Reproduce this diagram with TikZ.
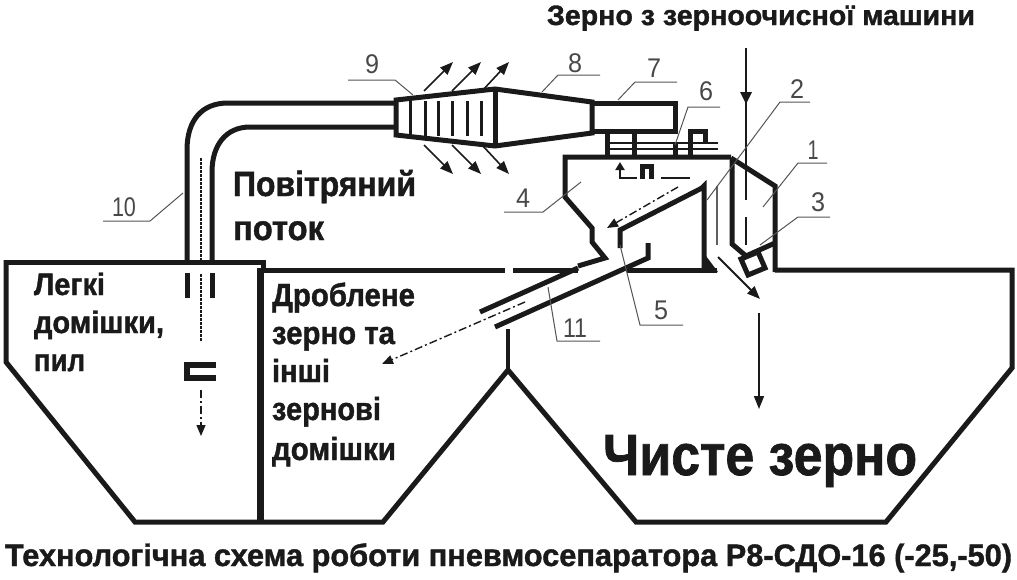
\documentclass[tikz,border=0pt]{standalone}
\usepackage{fontspec}
\usepackage{graphicx}
\setmainfont{Liberation Sans}[BoldFeatures={FakeBold=1.3}]
\usetikzlibrary{arrows.meta}
\definecolor{ink}{HTML}{1A1A1A}
\definecolor{leadc}{HTML}{555555}
\newcommand{\fitw}[3]{\resizebox{#1pt}{\height}{\fontsize{#2}{#2}\selectfont\bfseries #3}}
\newcommand{\numw}[2]{\resizebox{#1pt}{\height}{\fontsize{27}{27}\selectfont #2}}
\tikzset{
  wall/.style={draw=ink,line width=5pt,line join=miter},
  wallb/.style={draw=ink,line width=7pt,line join=miter},
  thinwall/.style={draw=ink,line width=3pt,line join=miter},
  hair/.style={draw=ink,line width=2.5pt},
  leader/.style={draw=leadc,line width=1pt},
  flow/.style={draw=ink,line width=1.6pt,-{Triangle[length=13pt,width=10pt]}},
  dashflow/.style={draw=ink,line width=1.4pt,dash pattern=on 8pt off 3pt on 2pt off 3pt,-{Triangle[length=11pt,width=9pt]}},
  txt/.style={inner sep=0pt,outer sep=0pt,anchor=base west,text=ink},
  num/.style={inner sep=0pt,outer sep=0pt,text=ink!80}
}
\begin{document}
\begin{tikzpicture}[x=1pt,y=-1pt]
\useasboundingbox (0,0) rectangle (1017,579);
\fill[white] (0,0) rectangle (1017,579);
% bins
\draw[wall] (6,262) -- (263,262) -- (263,270);
\draw[wall] (6,260) -- (6,362) -- (135,522) -- (383,522) -- (508,370) -- (636,522) -- (886,522) -- (1012,368) -- (1012,270) -- (775,270);
\draw[wallb] (260,268) -- (260,522);
\draw[wall] (263,270) -- (505,270);
\draw[wall] (513,270) -- (578,270);
\draw[wall] (627,270) -- (717,270);
\draw[wall,line width=4pt] (508,329) -- (508,370);
% pipe
\draw[wall] (187,262) -- (187,150) .. controls (187,120) and (202,103) .. (228,103) -- (396,103);
\draw[wall] (212,262) -- (212,172) .. controls (212,145) and (226,127) .. (250,127) -- (396,127);
\draw[wall] (187,273) -- (187,298) (212,273) -- (212,298);
\draw[draw=ink,line width=2pt,dash pattern=on 3pt off 1pt] (201,158) -- (201,262) (201,274) -- (201,342);
\draw[wall,line width=6pt] (216,364.5) -- (187,364.5) -- (187,378) -- (216,378);
\draw[dashflow] (201,390) -- (201,436);
% cyclone
\draw[wall] (396,100) -- (495,89) -- (592,102) -- (592,133) -- (495,146) -- (396,135) -- cycle;
\draw[wall] (495,89) -- (495,146);
\draw[wall] (592,103) -- (675,103) -- (675,131) -- (592,131);
\foreach \x in {410,425,438,452,467,481} \draw[thinwall] (\x,101) -- (\x,136);
\foreach \a/\b in {424/453,452/481,482/509} {
  \draw[flow] (\a,91) -- (\b,62);
  \draw[flow] (\a,145) -- (\b,174);
}
% fan
\draw[wall] (607,131) -- (607,157) (634,131) -- (634,157) (675,143) -- (675,157);
\draw[wall] (690,157) -- (690,131) -- (705,131) -- (705,143);
\draw[hair] (605,143) -- (718,143) (605,149) -- (718,149);
% hopper
\draw[wall] (731,157) -- (565,157) -- (565,197) -- (592,228) -- (592,242) -- (605,258) -- (578,266);
\draw[wall] (578,268) -- (480,312);
\draw[wall] (648,243) -- (648,258) -- (495,327);
\draw[wall] (620,248) -- (620,230) -- (702,188) -- (704,186) -- (704,270);
\fill[ink] (706,256) -- (718,272) -- (704,272) -- cycle;
\draw[draw=ink!70,line width=2.5pt] (717,186) -- (717,245);
% separator
\draw[wall] (732,160) -- (732,244) -- (746,256) -- (775,243);
\draw[wall] (731,158) -- (775,186) -- (775,272);
\draw[wall] (741,259) -- (758,252) -- (765,268) -- (748,275) -- cycle;
% feed
\draw[draw=ink,line width=2pt] (746,48) -- (746,200) (746,217) -- (746,245);
\fill[ink] (740,92) -- (752,92) -- (746,104) -- cycle;
% small flows
\draw[draw=ink,line width=2pt,-{Triangle[length=8pt,width=9pt]}] (637,178) -- (620,178) -- (620,162);
\draw[wall] (642,179) -- (642,166) -- (651,166) -- (651,179);
\draw[draw=ink,line width=2pt] (661,178) -- (690,178);
\draw[dashflow] (678,187) -- (607,228);
\draw[dashflow] (525,302) -- (382,364);
\draw[flow,line width=2pt] (718,257) -- (760,299);
\draw[flow] (759,313) -- (759,409);
% labels
\node[num] (n1) at (813,150) {\numw{11}{1}};
\node[num] (n2) at (797,89) {\numw{14}{2}};
\node[num] (n3) at (818,202) {\numw{14}{3}};
\node[num] (n4) at (523,198) {\numw{14}{4}};
\node[num] (n5) at (661,310) {\numw{14}{5}};
\node[num] (n6) at (706,91) {\numw{14}{6}};
\node[num] (n7) at (654,68) {\numw{14}{7}};
\node[num] (n8) at (575,63) {\numw{14}{8}};
\node[num] (n9) at (372,64) {\numw{14}{9}};
\node[num] (n10) at (124,207) {\numw{24}{10}};
\node[num] (n11) at (575,328) {\numw{24}{11}};
\draw[leader] (827,163) -- (798,163) -- (763,207);
\draw[leader] (810,102) -- (780,102) -- (707,200);
\draw[leader] (830,217) -- (798,217) -- (760,245);
\draw[leader] (504,212) -- (543,212) -- (581,182);
\draw[leader] (683,325) -- (640,325) -- (620,245);
\draw[leader] (720,107) -- (688,107) -- (675,145);
\draw[leader] (677,82) -- (635,82) -- (618,100);
\draw[leader] (600,75) -- (558,75) -- (542,92);
\draw[leader] (348,80) -- (395,80) -- (413,95);
\draw[leader] (103,221) -- (150,221) -- (183,193);
\draw[leader] (600,341) -- (557,341) -- (548,287);
% text
\node[txt] (t1) at (547,25) {\fitw{428}{28}{Зерно з зерноочисної машини}};
\node[txt] (t2) at (233,196) {\fitw{183}{35}{Повітряний}};
\node[txt] (t3) at (233,240) {\fitw{91}{35}{поток}};
\node[txt] (t4) at (34,295) {\fitw{71}{31}{Легкі}};
\node[txt] (t5) at (34,333) {\fitw{130}{31}{домішки,}};
\node[txt] (t6) at (34,371) {\fitw{51}{31}{пил}};
\node[txt] (t7) at (272,306) {\fitw{143}{32}{Дроблене}};
\node[txt] (t8) at (272,344) {\fitw{123}{32}{зерно та}};
\node[txt] (t9) at (272,382) {\fitw{58}{32}{інші}};
\node[txt] (t10) at (272,420) {\fitw{109}{32}{зернові}};
\node[txt] (t11) at (272,460) {\fitw{124}{32}{домішки}};
\node[txt] (t12) at (603,475) {\fitw{314}{58}{Чисте зерно}};
\node[txt] (t13) at (5,566) {\fitw{1007}{31}{Технологічна схема роботи пневмосепаратора Р8-СДО-16 (-25,-50)}};
\end{tikzpicture}
\end{document}
